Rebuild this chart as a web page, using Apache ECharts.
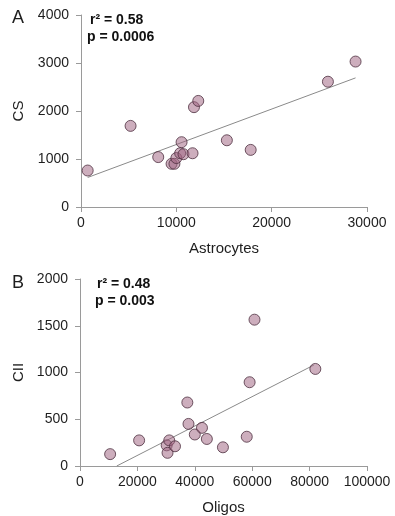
<!DOCTYPE html>
<html>
<head>
<meta charset="utf-8">
<script src="https://cdn.jsdelivr.net/npm/echarts@6/dist/echarts.min.js"></script>
<style>
  html, body { margin: 0; padding: 0; background: #fff; }
  #chart { width: 395px; height: 516px; }
</style>
</head>
<body>
<div id="chart"></div>
<script>
// panel A: astrocytes vs CS
var astrocytes = [700, 5200, 8100, 9500, 9800, 10000, 10400, 10550, 10750, 11700, 11850, 12300, 15300, 17800, 25900, 28800];
var csValues = [760, 1690, 1040, 900, 900, 1020, 1120, 1350, 1100, 1120, 2080, 2210, 1390, 1190, 2610, 3030];
var fitA = [[700, 615], [28800, 2690]];

// panel B: oligos vs CII
var oligos = [10500, 20600, 30200, 31100, 30500, 33100, 37400, 37800, 40000, 42500, 44200, 49800, 58100, 59100, 60800, 82000];
var ciiValues = [127, 274, 221, 274, 141, 211, 679, 450, 337, 408, 289, 200, 313, 896, 1565, 1038];
var fitB = [[12800, 0], [81500, 1080]];

function zip(xs, ys) {
    return xs.map(function (x, i) { return [x, ys[i]]; });
}

var font = 'Liberation Sans, Arial, sans-serif';
var axisGray = '#9a9a9a';
var textColor = '#1e1e1e';

function plain(v) { return String(v); }

function xAxis(idx, max, interval, name) {
    return {
        type: 'value', gridIndex: idx, min: 0, max: max, interval: interval,
        name: name, nameLocation: 'middle', nameGap: 34,
        nameTextStyle: { fontFamily: font, fontSize: 15, color: textColor },
        axisLine: { show: true, lineStyle: { color: axisGray, width: 1 } },
        axisTick: { show: true, length: 5, lineStyle: { color: axisGray } },
        axisLabel: { fontFamily: font, fontSize: 14, color: textColor, margin: 9, formatter: plain },
        splitLine: { show: false }
    };
}

function yAxis(idx, max, interval, name, gap) {
    return {
        type: 'value', gridIndex: idx, min: 0, max: max, interval: interval,
        name: name, nameLocation: 'middle', nameGap: gap, nameRotate: 90,
        nameTextStyle: { fontFamily: font, fontSize: 15, color: textColor },
        axisLine: { show: true, lineStyle: { color: axisGray, width: 1 } },
        axisTick: { show: true, length: 5, lineStyle: { color: axisGray } },
        axisLabel: { fontFamily: font, fontSize: 14, color: textColor, margin: 12, formatter: plain },
        splitLine: { show: false }
    };
}

var dotStyle = {
    color: 'rgba(160,100,128,0.65)',
    borderColor: '#4e3040',
    borderWidth: 1
};

var chart = echarts.init(document.getElementById('chart'), null, { renderer: 'canvas' });
chart.setOption({
    animation: false,
    grid: [
        { left: 81, top: 15, right: 28, height: 192 },
        { left: 80, top: 279, right: 28, height: 190 }
    ],
    xAxis: [
        xAxis(0, 30000, 10000, 'Astrocytes'),
        xAxis(1, 100000, 20000, 'Oligos')
    ],
    yAxis: [
        yAxis(0, 4000, 1000, 'CS', 55),
        yAxis(1, 2000, 500, 'CII', 49)
    ],
    graphic: [
        { type: 'text', left: 12, top: 9, style: { text: 'A', font: '18px ' + font, fill: textColor } },
        { type: 'text', left: 12, top: 274, style: { text: 'B', font: '18px ' + font, fill: textColor } },
        { type: 'text', left: 90, top: 13, style: { text: 'r\u00B2 = 0.58', font: 'bold 14px ' + font, fill: '#111' } },
        { type: 'text', left: 87, top: 30, style: { text: 'p = 0.0006', font: 'bold 14px ' + font, fill: '#111' } },
        { type: 'text', left: 97, top: 277, style: { text: 'r\u00B2 = 0.48', font: 'bold 14px ' + font, fill: '#111' } },
        { type: 'text', left: 95, top: 294, style: { text: 'p = 0.003', font: 'bold 14px ' + font, fill: '#111' } }
    ],
    series: [
        {
            type: 'line', xAxisIndex: 0, yAxisIndex: 0, data: fitA,
            symbol: 'none', lineStyle: { color: '#8a8a8a', width: 1 }, z: 1
        },
        {
            type: 'scatter', xAxisIndex: 0, yAxisIndex: 0, data: zip(astrocytes, csValues),
            symbolSize: 11, itemStyle: dotStyle, z: 2
        },
        {
            type: 'line', xAxisIndex: 1, yAxisIndex: 1, data: fitB,
            symbol: 'none', lineStyle: { color: '#8a8a8a', width: 1 }, z: 1
        },
        {
            type: 'scatter', xAxisIndex: 1, yAxisIndex: 1, data: zip(oligos, ciiValues),
            symbolSize: 11, itemStyle: dotStyle, z: 2
        }
    ]
});
</script>
</body>
</html>
